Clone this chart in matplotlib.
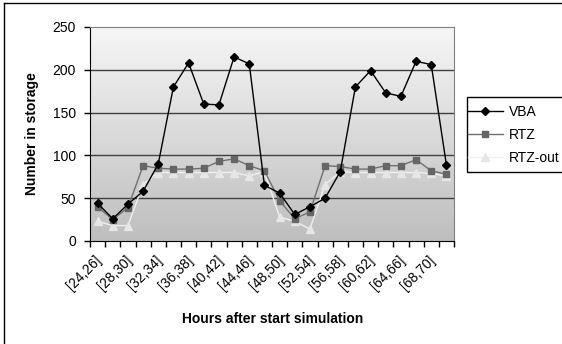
import numpy as np
import matplotlib
matplotlib.use("Agg")
import matplotlib.pyplot as plt
from matplotlib.patches import Rectangle

plt.rcParams['font.family'] = ['Liberation Sans', 'DejaVu Sans']

# Categories (2-hour intervals)
categories = ["[24,26]", "[26,28]", "[28,30]", "[30,32]", "[32,34]", "[34,36]",
              "[36,38]", "[38,40]", "[40,42]", "[42,44]", "[44,46]", "[46,48]",
              "[48,50]", "[50,52]", "[52,54]", "[54,56]", "[56,58]", "[58,60]",
              "[60,62]", "[62,64]", "[64,66]", "[66,68]", "[68,70]", "[70,72]"]

vba = [44, 26, 43, 58, 90, 180, 208, 160, 159, 215, 207, 65,
       56, 31, 40, 50, 81, 180, 199, 173, 169, 210, 206, 89]
rtz = [40, 25, 39, 88, 85, 84, 84, 85, 93, 96, 88, 82,
       47, 26, 34, 88, 87, 84, 84, 88, 88, 95, 82, 78]
rtz_out = [23, 18, 18, 66, 80, 80, 80, 80, 80, 80, 76, 81,
           28, 23, 14, 66, 81, 80, 80, 80, 80, 80, 79, 76]

W, H = 562, 344
fig = plt.figure(figsize=(W / 100, H / 100), dpi=100)
ax = fig.add_axes([90 / W, 1 - 241 / H, 364 / W, 214 / H])

x = np.arange(len(categories))

# gradient background of the plot area
grad = np.linspace(0, 1, 256).reshape(-1, 1)
ax.imshow(grad, extent=[-0.5, len(categories) - 0.5, 0, 250], aspect='auto',
          cmap=matplotlib.colors.LinearSegmentedColormap.from_list(
              'g', ['#bebebe', '#f6f6f6']), origin='lower', zorder=0)

for yv in [50, 100, 150, 200]:
    ax.axhline(yv, color='#404040', lw=1.0, zorder=1)

ax.plot(x, vba, color='black', lw=1.0, marker='D', ms=4.5, label='VBA', zorder=5)
ax.plot(x, rtz, color='#707070', lw=1.0, marker='s', ms=5, mfc='#666666',
        mec='#666666', label='RTZ', zorder=4)
ax.plot(x, rtz_out, color='#f0f0f0', lw=1.0, marker='^', ms=5.5, mfc='#e6e6e6',
        mec='#e6e6e6', label='RTZ-out', zorder=3)

ax.set_xlim(-0.5, len(categories) - 0.5)
ax.set_ylim(0, 250)
ax.set_yticks([0, 50, 100, 150, 200, 250])
ax.set_xticks(np.arange(len(categories) + 1) - 0.5)
ax.set_xticklabels([])
ax.tick_params(axis='both', direction='out', length=4, width=1, labelsize=10)
ax.tick_params(axis='y', pad=6)

# every other category label, rotated like the original
for i in range(0, len(categories), 2):
    ax.annotate(categories[i], xy=(x[i], 0), xycoords='data',
                xytext=(-3, -12), textcoords='offset pixels',
                rotation=45, ha='right', va='top', rotation_mode='anchor',
                fontsize=10)

for side in ['top', 'right']:
    ax.spines[side].set_color('#808080')
for side in ['left', 'bottom']:
    ax.spines[side].set_color('black')

ax.set_ylabel("Number in storage", fontsize=10, fontweight='bold', labelpad=10)
fig.text(273 / W, 1 - 319 / H, "Hours after start simulation", fontsize=10,
         fontweight='bold', ha='center', va='center')

fig.legend(loc='center left', bbox_to_anchor=(468 / W, 1 - 135 / H),
           frameon=False, fontsize=10, handlelength=2.5, handletextpad=0.45,
           labelspacing=0.65, borderpad=0.0, borderaxespad=0.0)
fig.patches.append(Rectangle((467 / W, 1 - 172 / H), 120 / W, 75 / H,
                             transform=fig.transFigure, fill=False,
                             edgecolor='black', lw=1.0))

# outer chart border (top and left visible)
fig.add_artist(plt.Line2D([4 / W, 1], [1 - 3 / H, 1 - 3 / H],
                          transform=fig.transFigure, color='black', lw=1.0))
fig.add_artist(plt.Line2D([4 / W, 4 / W], [0, 1 - 3 / H],
                          transform=fig.transFigure, color='black', lw=1.0))

fig.savefig("out.png", dpi=100)
